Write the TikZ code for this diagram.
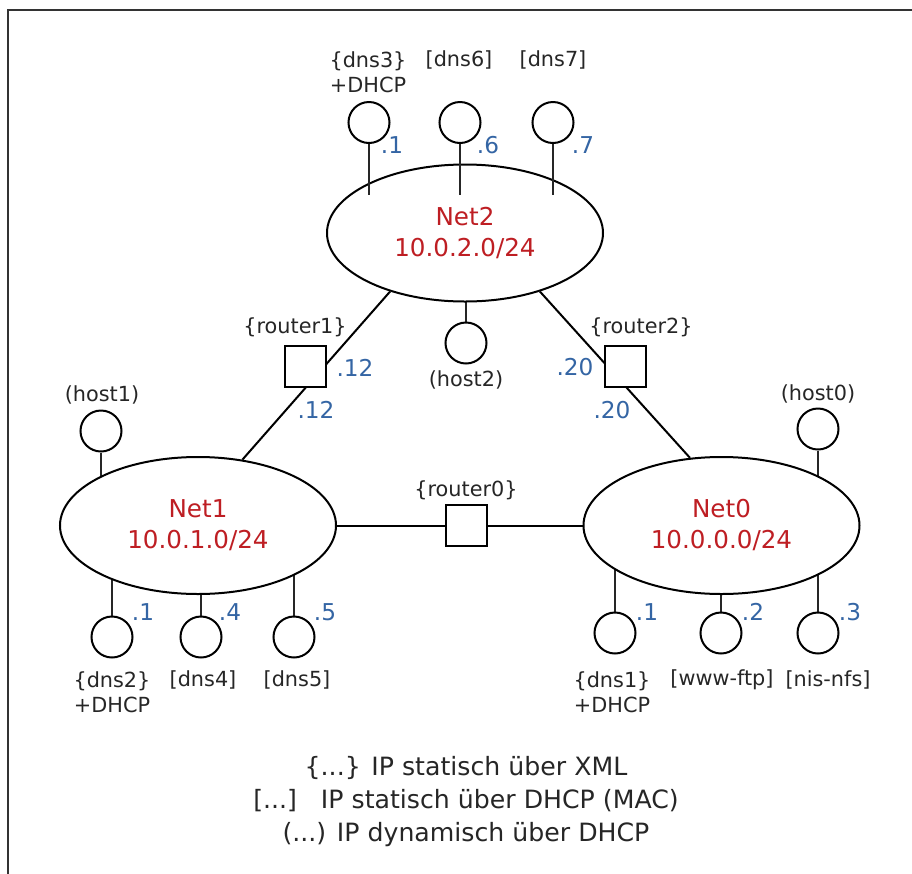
\documentclass[tikz,border=0pt]{standalone}
\usepackage{fontspec}
\setmainfont{DejaVu Sans}
\usetikzlibrary{shapes.geometric,backgrounds}
\definecolor{netred}{RGB}{190,30,35}
\definecolor{ipblue}{RGB}{52,101,164}

\begin{document}
\begin{tikzpicture}[x=0.5pt,y=-0.5pt,line width=1pt,
  net/.style={ellipse,draw,fill=white,minimum width=138pt,minimum height=68.5pt,inner sep=0pt,align=center,text=netred,font=\fontsize{12.3}{15.5}\selectfont},
  host/.style={circle,draw,fill=white,minimum size=20.5pt,inner sep=0pt},
  router/.style={rectangle,draw,fill=white,minimum size=20.5pt,inner sep=0pt},
  hostlabel/.style={align=center,text=black!85,font=\fontsize{10.4}{12.5}\selectfont},
  ip/.style={text=ipblue,font=\fontsize{11.6}{14}\selectfont},
  link/.style={line width=1pt,black},
  stub/.style={line width=1.2pt,black!85}]
\useasboundingbox (0,0) rectangle (912,874);
\draw[black!80] (8,874) -- (8,10) -- (912,10);

% networks
\node[net] (net2) at (465,233) {Net2\\10.0.2.0/24};
\node[net] (net1) at (198,525.5) {Net1\\10.0.1.0/24};
\node[net] (net0) at (721.5,525.5) {Net0\\10.0.0.0/24};

% routers
\node[router] (r1) at (305,366) {};
\node[router] (r2) at (625.5,366) {};
\node[router] (r0) at (466,525.5) {};

% hosts
\node[host] (dns3) at (369,122.5) {};
\node[host] (dns6) at (460,122.5) {};
\node[host] (dns7) at (553,122.5) {};
\node[host] (host2) at (466,343) {};
\node[host] (host1) at (101,431) {};
\node[host] (dns2) at (112,637) {};
\node[host] (dns4) at (201,637) {};
\node[host] (dns5) at (294,637) {};
\node[host] (host0) at (818,429) {};
\node[host] (dns1) at (615,633) {};
\node[host] (www) at (721,633) {};
\node[host] (nis) at (818,633) {};

\begin{scope}[on background layer]
\draw[link] (net1.56) -- (net2.218);
\draw[link] (net2.322) -- (net0.115);
\draw[stub] (host2) -- (host2 |- net2);
\draw[stub] (host1) -- (host1 |- net1);
\draw[stub] (dns2) -- (dns2 |- net1);
\draw[stub] (dns4) -- (dns4 |- net1);
\draw[stub] (dns5) -- (dns5 |- net1);
\draw[stub] (host0) -- (host0 |- net0);
\draw[stub] (dns1) -- (dns1 |- net0);
\draw[stub] (www) -- (www |- net0);
\draw[stub] (nis) -- (nis |- net0);
\end{scope}
\draw[link] (net1) -- (r0);
\draw[link] (r0) -- (net0);
\coordinate (n2in) at (465,195);
\draw[stub] (dns3) -- (dns3 |- n2in);
\draw[stub] (dns6) -- (dns6 |- n2in);
\draw[stub] (dns7) -- (dns7 |- n2in);

% names
\node[hostlabel] (l-dns3) at (368,72.5) {\{dns3\}\\+DHCP};
\node[hostlabel] (l-dns6) at (459,60) {[dns6]};
\node[hostlabel] (l-dns7) at (553,60) {[dns7]};
\node[hostlabel] (l-host2) at (466,380) {(host2)};
\node[hostlabel] (l-r1) at (295,327) {\{router1\}};
\node[hostlabel] (l-r2) at (641,327) {\{router2\}};
\node[hostlabel] (l-r0) at (466,490) {\{router0\}};
\node[hostlabel] (l-host1) at (102,395) {(host1)};
\node[hostlabel] (l-host0) at (818,394) {(host0)};
\node[hostlabel] (l-dns2) at (112,692.5) {\{dns2\}\\+DHCP};
\node[hostlabel] (l-dns4) at (203,680) {[dns4]};
\node[hostlabel] (l-dns5) at (297,680) {[dns5]};
\node[hostlabel] (l-dns1) at (612,692.5) {\{dns1\}\\+DHCP};
\node[hostlabel] (l-www) at (722,680) {[www-ftp]};
\node[hostlabel] (l-nis) at (828,680) {[nis-nfs]};

% addresses
\node[ip] (ip-dns3) at (392,145) {.1};
\node[ip] (ip-dns6) at (488,145) {.6};
\node[ip] (ip-dns7) at (583,145) {.7};
\node[ip] (ip-r1a) at (355,368) {.12};
\node[ip] (ip-r1b) at (316,410) {.12};
\node[ip] (ip-r2a) at (575,367) {.20};
\node[ip] (ip-r2b) at (612,410) {.20};
\node[ip] (ip-dns2) at (143,612) {.1};
\node[ip] (ip-dns4) at (230,612) {.4};
\node[ip] (ip-dns5) at (325,612) {.5};
\node[ip] (ip-dns1) at (647,612) {.1};
\node[ip] (ip-www) at (753,612) {.2};
\node[ip] (ip-nis) at (850,612) {.3};

\node[align=center,text=black!85,font=\fontsize{12.6}{16.5}\selectfont] (key) at (466,802)
  {\{...\} IP statisch über XML\\{}[...]~~~IP statisch über DHCP (MAC)\\(...) IP dynamisch über DHCP};
\end{tikzpicture}
\end{document}
